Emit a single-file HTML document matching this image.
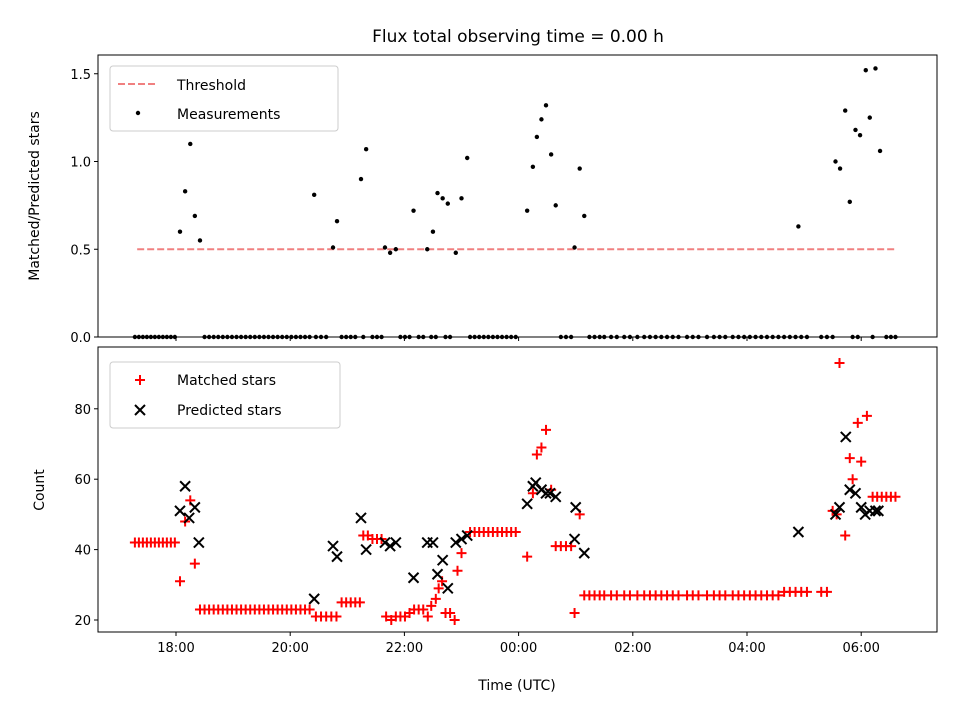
<!DOCTYPE html>
<html><head><meta charset="utf-8"><style>
body{margin:0;background:#fff;}
svg text{font-family:"DejaVu Sans","Liberation Sans",sans-serif;fill:#000;}
</style></head><body>
<svg id="chart" width="960" height="720" xmlns="http://www.w3.org/2000/svg">
<text x="518" y="42" font-size="17" text-anchor="middle">Flux total observing time = 0.00 h</text>
<g id="topPanel"></g>
<g id="botPanel"></g>
</svg>
<script>
// hours relative to 18:00 UTC
const tickHours = [0, 2, 4, 6, 8, 10, 12];
const tickLabels = ["18:00","20:00","22:00","00:00","02:00","04:00","06:00"];
const topTicks = [0, 0.5, 1.0, 1.5];
const topTickLabels = ["0.0","0.5","1.0","1.5"];
const botTicks = [20, 40, 60, 80];
const threshold = 0.5;
const ratioT = [0.07,0.16,0.25,0.33,0.42,2.42,2.75,2.82,3.24,3.33,3.66,3.75,3.85,4.16,4.4,4.5,4.58,4.67,4.76,4.9,5.0,5.1,6.15,6.25,6.32,6.4,6.48,6.57,6.65,6.98,7.07,7.15,10.9,11.55,11.63,11.72,11.8,11.9,11.98,12.08,12.15,12.25,12.33];
const ratioV = [0.6,0.83,1.1,0.69,0.55,0.81,0.51,0.66,0.9,1.07,0.51,0.48,0.5,0.72,0.5,0.6,0.82,0.79,0.76,0.48,0.79,1.02,0.72,0.97,1.14,1.24,1.32,1.04,0.75,0.51,0.96,0.69,0.63,1.0,0.96,1.29,0.77,1.18,1.15,1.52,1.25,1.53,1.06];
const matchedT = [-0.72,-0.65,-0.58,-0.51,-0.44,-0.37,-0.30,-0.23,-0.16,-0.09,-0.02,0.07,0.16,0.25,0.33,
0.42,0.5,0.58,0.66,0.74,0.82,0.9,0.98,1.06,1.14,1.22,1.3,1.38,1.46,1.54,1.62,1.7,1.78,1.86,1.94,2.02,2.1,2.18,2.26,2.34,
2.45,2.54,2.63,2.72,2.81,2.9,2.98,3.06,3.14,3.22,3.28,3.36,3.44,3.52,3.6,
3.68,3.77,3.85,3.93,4.01,4.09,4.17,4.25,4.33,4.41,4.47,4.55,4.6,4.66,4.72,4.8,4.88,4.93,5.0,
5.15,5.23,5.31,5.39,5.47,5.55,5.63,5.71,5.79,5.87,5.95,6.15,6.25,6.32,6.4,6.48,6.57,6.65,6.74,6.83,6.92,6.98,7.07,
7.15,7.24,7.33,7.42,7.5,7.62,7.72,7.85,7.95,8.08,8.2,8.3,8.4,8.5,8.6,8.7,8.8,8.95,9.05,9.15,9.3,9.42,9.52,9.62,9.75,9.85,9.95,10.05,10.15,10.25,10.35,10.45,10.55,10.65,10.75,10.85,10.95,11.05,11.3,11.4,11.5,11.57,11.62,11.72,11.8,11.85,11.94,12.0,12.1,12.2,12.28,12.36,12.44,12.52,12.6];
const matchedV = [42,42,42,42,42,42,42,42,42,42,42,31,48,54,36,
23,23,23,23,23,23,23,23,23,23,23,23,23,23,23,23,23,23,23,23,23,23,23,23,23,
21,21,21,21,21,25,25,25,25,25,44,44,43,43,43,
21,20,21,21,21,22,23,23,23,21,24,26,29,31,22,22,20,34,39,
45,45,45,45,45,45,45,45,45,45,45,38,56,67,69,74,57,41,41,41,41,22,50,
27,27,27,27,27,27,27,27,27,27,27,27,27,27,27,27,27,27,27,27,27,27,27,27,27,27,27,27,27,27,27,27,27,28,28,28,28,28,28,28,51,50,93,44,66,60,76,65,78,55,55,55,55,55,55];
const predT = [0.07,0.16,0.23,0.33,0.4,2.42,2.75,2.82,3.24,3.33,3.66,3.75,3.85,4.16,4.4,4.5,4.58,4.67,4.76,4.9,5.0,5.1,6.15,6.25,6.3,6.4,6.48,6.55,6.65,6.98,7.0,7.15,10.9,11.55,11.62,11.73,11.8,11.9,12.0,12.07,12.15,12.25,12.3];
const predV = [51,58,49,52,42,26,41,38,49,40,42,41,42,32,42,42,33,37,29,42,43,44,53,58,59,57,56,56,55,43,52,39,45,50,52,72,57,56,52,50,51,51,51];

const NS="http://www.w3.org/2000/svg";
const svgEl=document.getElementById('chart');
const X0=98,X1=937;
const x=h=>176+57.1*h;
const yT=v=>337-175.5*v;
const yB=v=>620-3.52*(v-20);
function mk(p,tag,at){const e=document.createElementNS(NS,tag);for(const k in at)e.setAttribute(k,at[k]);p.appendChild(e);return e;}
const topG=document.getElementById('topPanel'),botG=document.getElementById('botPanel');

function frame(g,y0,y1,name){
  const r=mk(g,'rect',{x:X0,y:y0,width:X1-X0,height:y1-y0,fill:'none',stroke:'#000','stroke-width':1});
  
  
  tickHours.forEach(h=>{mk(g,'line',{x1:x(h),x2:x(h),y1:y1,y2:y1+4,stroke:'#000'});});
}
frame(topG,55,337,'top-axes-frame');
frame(botG,347,632,'bottom-axes-frame');
let t;
tickHours.forEach((h,i)=>{
  const e=mk(botG,'text',{x:x(h),y:652,'font-size':13,'text-anchor':'middle'});e.textContent=tickLabels[i];
  
  
});
topTicks.forEach((v,i)=>{
  mk(topG,'line',{x1:X0-4,x2:X0,y1:yT(v),y2:yT(v),stroke:'#000'});
  const e=mk(topG,'text',{x:X0-7,y:yT(v)+5,'font-size':13,'text-anchor':'end'});e.textContent=topTickLabels[i];
  
  
});
botTicks.forEach(v=>{
  mk(botG,'line',{x1:X0-4,x2:X0,y1:yB(v),y2:yB(v),stroke:'#000'});
  const e=mk(botG,'text',{x:X0-7,y:yB(v)+5,'font-size':13,'text-anchor':'end'});e.textContent=v;
  
  
});
t=mk(svgEl,'text',{x:517,y:690,'font-size':14,'text-anchor':'middle'});t.textContent='Time (UTC)';


t=mk(svgEl,'text',{x:0,y:0,'font-size':14,'text-anchor':'middle',transform:'translate(39,196) rotate(-90)'});t.textContent='Matched/Predicted stars';


t=mk(svgEl,'text',{x:0,y:0,'font-size':14,'text-anchor':'middle',transform:'translate(44,490) rotate(-90)'});t.textContent='Count';



const th=mk(topG,'line',{x1:x(-0.68),x2:x(12.6),y1:yT(threshold),y2:yT(threshold),stroke:'#f08080','stroke-width':2,'stroke-dasharray':'7,3'});


matchedT.forEach(h=>{
  if(ratioT.some(r=>Math.abs(r-h)<0.03))return;
  const c=mk(topG,'circle',{cx:x(h),cy:yT(0),r:2.2,fill:'#000'});
  
  
});
ratioT.forEach((h,i)=>{
  const c=mk(topG,'circle',{cx:x(h),cy:yT(ratioV[i]),r:2.2,fill:'#000'});
  
  
});
function plus(g,cx,cy,s){return mk(g,'path',{d:`M${cx-s},${cy}H${cx+s}M${cx},${cy-s}V${cy+s}`,stroke:'#f00','stroke-width':2,fill:'none'});}
function cross(g,cx,cy,s){return mk(g,'path',{d:`M${cx-s},${cy-s}L${cx+s},${cy+s}M${cx-s},${cy+s}L${cx+s},${cy-s}`,stroke:'#000','stroke-width':2,fill:'none'});}
matchedT.forEach((h,i)=>{
  const p=plus(botG,x(h),yB(matchedV[i]),5);
  
  
});
predT.forEach((h,i)=>{
  const p=cross(botG,x(h),yB(predV[i]),5);
  
  
});
let lg=mk(svgEl,'g',{});


mk(lg,'rect',{x:110,y:66,width:228,height:65,rx:3,fill:'#fff','fill-opacity':0.8,stroke:'#ccc'});
mk(lg,'line',{x1:118,x2:158,y1:84,y2:84,stroke:'#f08080','stroke-width':2,'stroke-dasharray':'7,3'});
t=mk(lg,'text',{x:177,y:90,'font-size':14});t.textContent='Threshold';
mk(lg,'circle',{cx:138,cy:113,r:2.2,fill:'#000'});
t=mk(lg,'text',{x:177,y:119,'font-size':14});t.textContent='Measurements';
lg=mk(svgEl,'g',{});


mk(lg,'rect',{x:110,y:362,width:230,height:66,rx:3,fill:'#fff','fill-opacity':0.8,stroke:'#ccc'});
plus(lg,140,380,5);
t=mk(lg,'text',{x:177,y:385,'font-size':14});t.textContent='Matched stars';
cross(lg,140,410,5);
t=mk(lg,'text',{x:177,y:415,'font-size':14});t.textContent='Predicted stars';
</script>
</body></html>
